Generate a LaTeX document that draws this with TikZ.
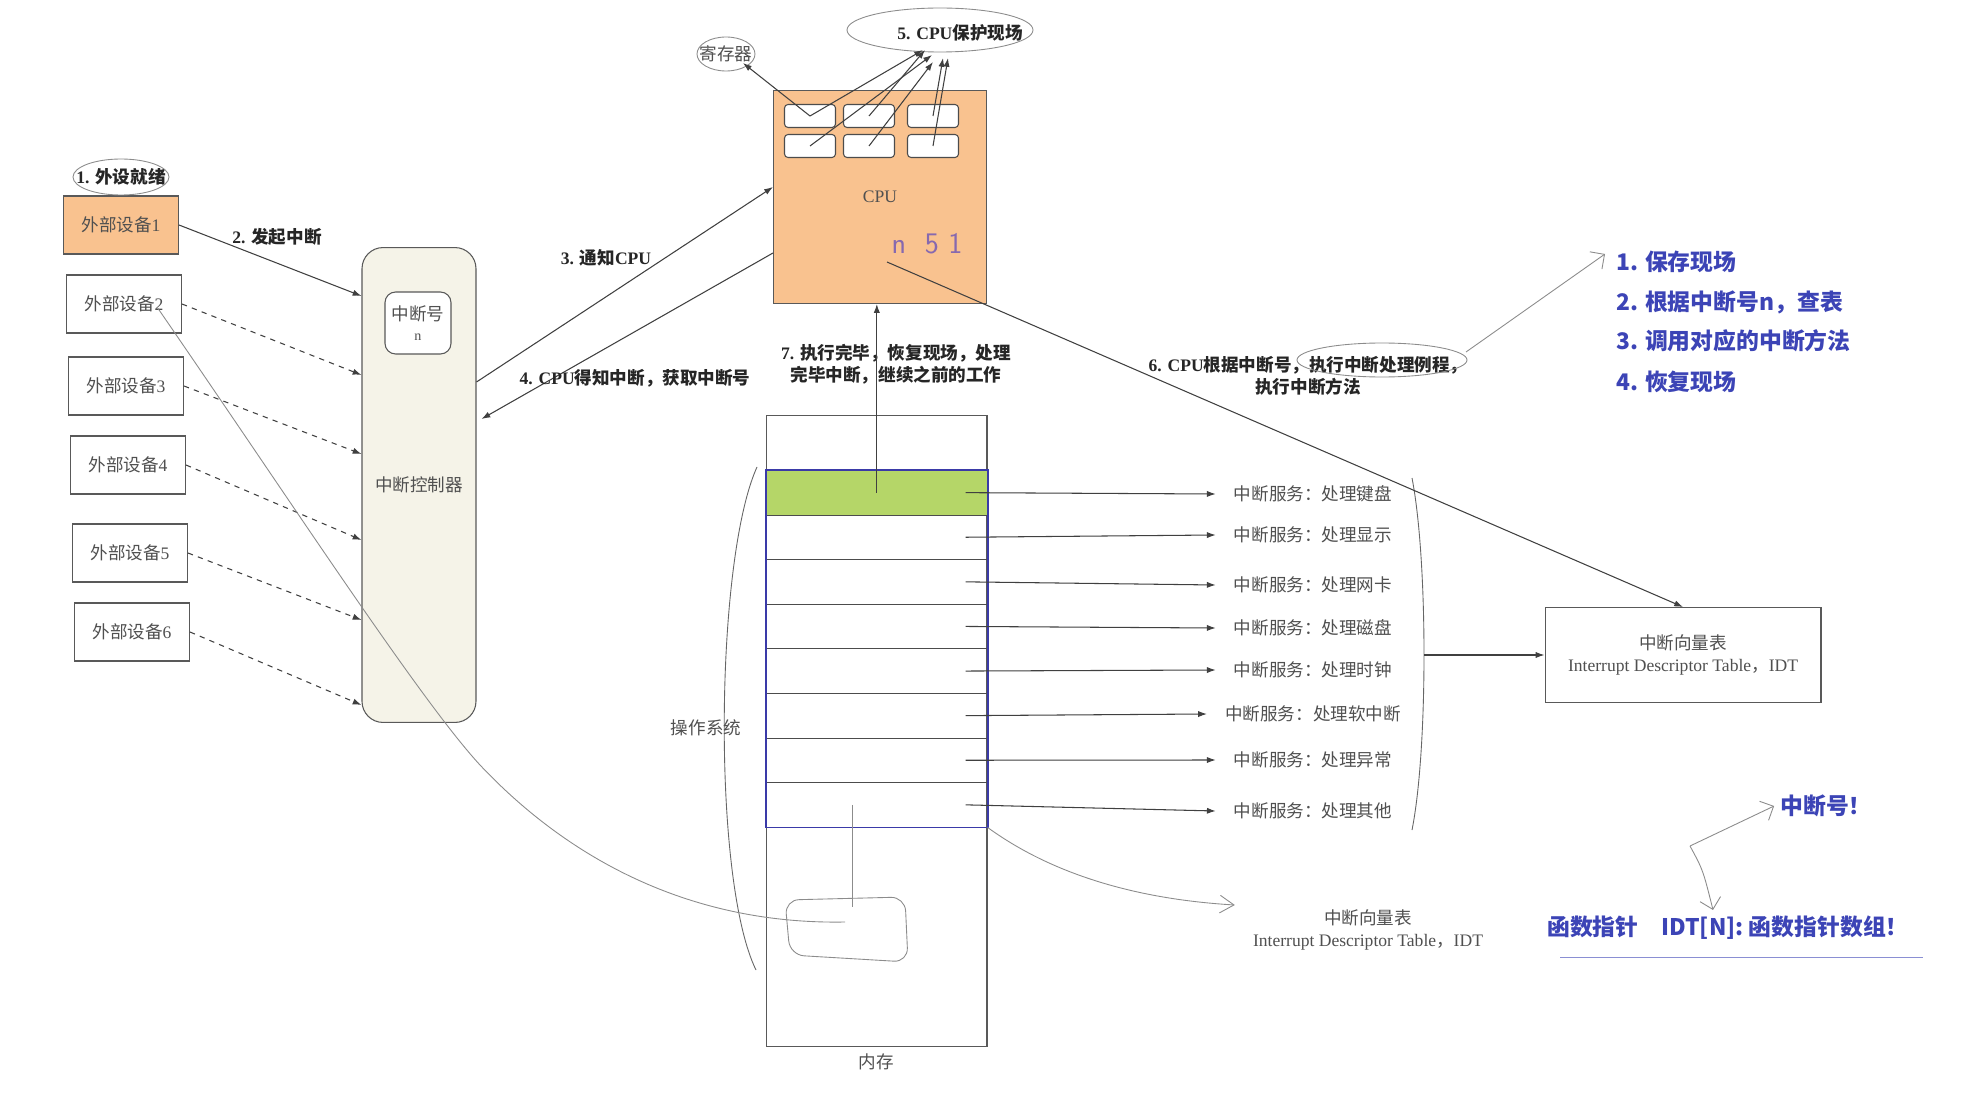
\documentclass[tikz,border=0pt]{standalone}
\usepackage{fontspec}
\setmainfont{Liberation Serif}
\newfontfamily\zh{Noto Sans CJK SC}
\usepackage{tikz}
\usetikzlibrary{arrows.meta,positioning,calc,shapes.geometric}
\definecolor{peach}{RGB}{249,194,143}
\definecolor{ctrlbg}{RGB}{245,243,232}
\definecolor{osgreen}{RGB}{181,214,104}
\definecolor{osblue}{RGB}{58,58,168}
\definecolor{noteblue}{RGB}{60,68,182}
\definecolor{txtgray}{RGB}{80,80,80}
\definecolor{penpurple}{RGB}{135,105,175}

\begin{document}
\begin{tikzpicture}[x=0.02cm,y=-0.02cm,font=\fontsize{10}{12}\selectfont,
  box/.style={draw=black!65,line width=0.6pt,text=txtgray,align=center},
  dev/.style={box,minimum width=2.3cm,minimum height=1.16cm},
  reg/.style={draw=black!70,rounded corners=2pt,fill=white,minimum width=1.02cm,minimum height=0.46cm,line width=0.6pt},
  row/.style={draw=black!70,minimum width=4.42cm,minimum height=0.892cm,anchor=north west,inner sep=0pt},
  lab/.style={font=\fontsize{10}{12.5}\selectfont\bfseries,text=black!85,align=center},
  note/.style={text=noteblue,font=\zh\fontsize{13}{16}\selectfont\bfseries,anchor=west},
  a/.style={-{Latex[length=5pt,width=3.5pt]},draw=black!75,line width=0.6pt},
  da/.style={a,dashed},
  hand/.style={draw=black!45,line width=0.5pt}]
\fill[white] (0,0) rectangle (1982,1098);
\useasboundingbox (0,0) rectangle (1982,1098);

\node[dev,fill=peach] (d1) at (121,225) {{\zh 外部设备}1};
\foreach \i/\x/\y in {2/124/304,3/126/386,4/128/465,5/130/553,6/132/632}
  \node[dev] (d\i) at (\x,\y) {{\zh 外部设备}\i};
\node[lab] (ready) at (121,177) {1. {\zh 外设就绪}};
\draw[hand] (ready.center) ellipse [x radius=48, y radius=18];

\node[box,fill=ctrlbg,rounded corners=12pt,minimum width=2.28cm,minimum height=9.5cm] (ctrl) at (419,485) {{\zh 中断控制器}};
\node[box,fill=white,rounded corners=6pt,minimum width=1.32cm,minimum height=1.24cm] (irq) at (418,323) {{\zh 中断号}\\[-1pt]{\fontsize{8}{8}\selectfont n}};
\draw[a] (d1.east) -- ($(ctrl.west)+(0,-189)$);
\node[lab] (l2) at (277,237) {2. {\zh 发起中断}};
\foreach \i/\dy in {2/-110,3/-31,4/55,5/135,6/220}
  \draw[da] (d\i.east) -- ($(ctrl.west)+(0,\dy)$);

\node[box,fill=peach,minimum size=4.26cm] (cpu) at (880,197) {CPU};
\foreach \r/\y in {1/116,2/146}
  \foreach \c/\x in {1/810,2/869,3/933}
    \node[reg] (g\r\c) at (\x,\y) {};
\node[text=txtgray] (regname) at (726,54) {{\zh 寄存器}};
\draw[hand] (regname.center) ellipse [x radius=29, y radius=17];
\node[lab] (save) at (960,33) {5. CPU{\zh 保护现场}};
\draw[hand] (940,30) ellipse [x radius=93, y radius=22];
\draw[a] (g11.center) -- ($(regname)+(17,9)$);
\foreach \g/\dx/\dy in {g11/-37/17,g12/-35/17,g21/-28/22,g22/-27/29,g13/-17/25,g23/-12/25}
  \draw[a] (\g.center) -- ($(save)+(\dx,\dy)$);
\node[text=penpurple,font=\sffamily\fontsize{17}{17}\selectfont] (nfive) at (927,244) {n\ \ 5\ 1};

\draw[a] ($(ctrl.east)+(0,-103)$) -- ($(cpu.west)+(0,-10)$);
\node[lab] (l3) at (606,258) {3. {\zh 通知}CPU};
\draw[a] ($(cpu.west)+(0,56)$) -- ($(ctrl.east)+(5,-66)$);
\node[lab] (l4) at (635,378) {4. CPU{\zh 得知中断，获取中断号}};
\node[lab] (l7) at (896,364) {7. {\zh 执行完毕，恢复现场，处理}\\{\zh 完毕中断，继续之前的工作}};

\node[box,minimum width=4.42cm,minimum height=12.64cm,label={[text=txtgray]below:{\zh 内存}}] (mem) at (876.5,731) {};
\node[row,fill=osgreen] (r1) at (766,470) {};
\foreach \i in {2,...,8}
  \node[row] (r\i) at (766,{470+44.6*(\i-1)}) {};
\draw[osblue,line width=1pt] (r1.north west) rectangle (r8.south east);
\draw[a] (r1.center) -- (r1.center |- cpu.south);
\foreach \i/\svc/\y in {1/键盘/494,2/显示/535,3/网卡/585,4/磁盘/628,5/时钟/670,6/软中断/714,7/异常/760,8/其他/811} {
  \node[text=txtgray] (s\i) at (1313,\y) {{\zh 中断服务：处理\svc}};
  \draw[a] ($(r\i.east)+(-22,0)$ |- s\i) -- ($(s\i.west)+(-12,0)$);
}
\draw[hand,draw=black!60] (1412,478) .. controls (1428,560) and (1428,750) .. (1412,830);
\coordinate (brk) at (1424,655);
\node[box,minimum width=5.52cm,minimum height=1.9cm] (idt) at (1683,655) {{\zh 中断向量表}\\Interrupt Descriptor Table{\zh ，}IDT};
\draw[a] (brk) -- (idt.west);
\draw[a] ($(cpu)+(7,65)$) -- (idt.north);
\node[lab] (l6) at (1308,376) {6. CPU{\zh 根据中断号，执行中断处理例程，}\\{\zh 执行中断方法}};
\draw[hand] (1382,360) ellipse [x radius=85, y radius=17];
\draw[hand,-{Straight Barb[length=6pt]}] (1466,352) -- (1605,254);
\node[note] (n1) at (1610,262) {1. 保存现场};
\node[note] (n2) at (1610,302) {2. 根据中断号n，查表};
\node[note] (n3) at (1610,341) {3. 调用对应的中断方法};
\node[note] (n4) at (1610,382) {4. 恢复现场};

\draw[hand,draw=black!60] (757,467) .. controls (715,560) and (712,880) .. (756,970);
\node[text=txtgray] (os) at (706,728) {{\zh 操作系统}};
\draw[hand] ($(r8.center)+(-24,0)$) -- ++(0,102);
\draw[hand,rounded corners=8pt] (785,900) -- (905,897) -- (908,962) -- (790,955) -- cycle;
\draw[hand] ($(d2.east)+(-25,3)$) .. controls (290,500) and (420,700) .. (480,765) .. controls (560,850) and (680,925) .. (845,922);
\node[text=txtgray,align=center] (idt2) at (1368,930) {{\zh 中断向量表}\\Interrupt Descriptor Table{\zh ，}IDT};
\draw[hand,-{Straight Barb[length=8pt,width=10pt]}] (r8.south east) .. controls (1060,880) and (1150,900) .. ($(idt2.west)+(-12,-25)$);

\node[note,anchor=center] (num) at (1826,806) {中断号！};
\node[note,anchor=center] (fp) at (1728,928) {函数指针\quad IDT[N]: 函数指针数组！};
\draw[hand,draw=noteblue!60] (1560,957) -- (1923,957);
\coordinate (fork) at (1690,846);
\draw[hand,-{Straight Barb[length=6pt]}] (fork) -- (num.west);
\draw[hand,-{Straight Barb[length=6pt]}] (fork) .. controls (1703,870) .. ($(fp.north)+(-15,0)$);
\end{tikzpicture}
\end{document}
